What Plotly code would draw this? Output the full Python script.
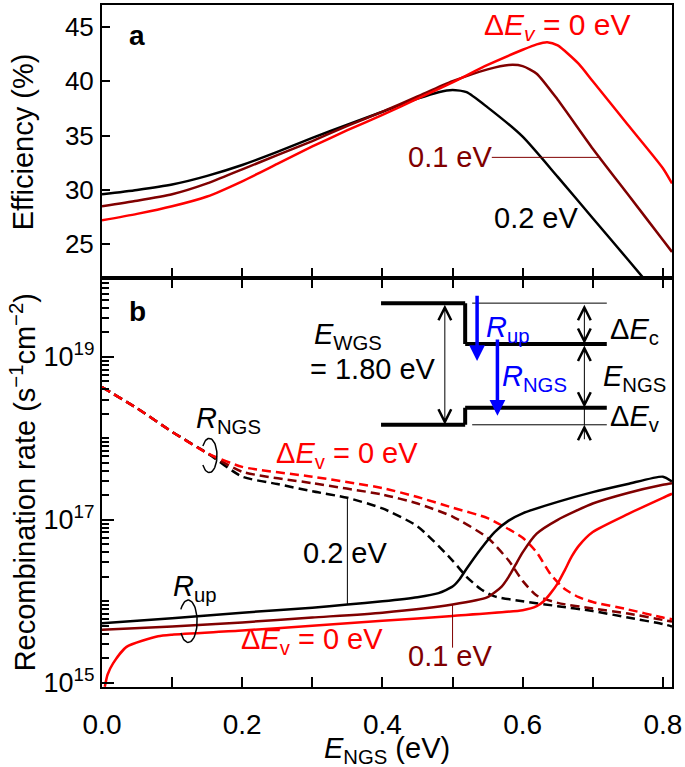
import numpy as np
import plotly.graph_objects as go

FONT = "Liberation Sans, Arial, Helvetica, sans-serif"
RED = "#ff0000"
DRED = "#800000"
BLACK = "#000000"
BLUE = "#0000ff"

# ---------------- Panel a: efficiency (%) vs E_NGS (eV) ----------------
eff_x_02 = [0, 0.05, 0.1, 0.15, 0.2, 0.25, 0.3, 0.35, 0.4, 0.45, 0.48, 0.5, 0.52, 0.55, 0.6, 0.65, 0.7, 0.75, 0.78]
eff_y_02 = [29.6, 30.0, 30.5, 31.3, 32.3, 33.5, 34.8, 36.0, 37.2, 38.4, 39.0, 39.2, 39.0, 37.6, 34.9, 31.2, 27.4, 23.6, 21.3]

eff_x_01 = [0, 0.05, 0.1, 0.15, 0.2, 0.25, 0.3, 0.35, 0.4, 0.45, 0.5, 0.55, 0.58, 0.6, 0.62, 0.65, 0.7, 0.75, 0.8, 0.813]
eff_y_01 = [28.5, 29.0, 29.6, 30.6, 31.9, 33.2, 34.5, 35.9, 37.2, 38.6, 40.0, 41.1, 41.5, 41.4, 40.7, 38.3, 33.8, 29.6, 25.4, 24.3]

eff_x_00 = [0, 0.05, 0.1, 0.15, 0.2, 0.25, 0.3, 0.35, 0.4, 0.45, 0.5, 0.55, 0.6, 0.62, 0.635, 0.65, 0.68, 0.7, 0.75, 0.8, 0.813]
eff_y_00 = [27.2, 27.8, 28.5, 29.4, 30.8, 32.4, 34.0, 35.5, 36.9, 38.4, 39.9, 41.5, 42.9, 43.4, 43.6, 43.3, 41.6, 40.0, 36.0, 32.0, 30.6]

# ---------------- Panel b: recombination rates, log10(s^-1 cm^-2) ----------------
ngs_x_02 = [0, 0.05, 0.1, 0.15, 0.2, 0.25, 0.3, 0.35, 0.4, 0.45, 0.5, 0.52, 0.54, 0.56, 0.6, 0.65, 0.7, 0.75, 0.8, 0.813]
ngs_log_02 = [18.63, 18.37, 18.08, 17.82, 17.53, 17.44, 17.35, 17.27, 17.14, 16.92, 16.5, 16.3, 16.15, 16.06, 16.0, 15.94, 15.88, 15.8, 15.72, 15.69]

ngs_x_01 = [0, 0.05, 0.1, 0.15, 0.2, 0.3, 0.4, 0.45, 0.5, 0.55, 0.58, 0.6, 0.62, 0.65, 0.7, 0.75, 0.8, 0.813]
ngs_log_01 = [18.63, 18.37, 18.08, 17.82, 17.59, 17.45, 17.31, 17.2, 17.04, 16.78, 16.5, 16.25, 16.07, 15.98, 15.91, 15.85, 15.77, 15.75]

ngs_x_00 = [0, 0.05, 0.1, 0.15, 0.2, 0.3, 0.4, 0.45, 0.5, 0.55, 0.6, 0.62, 0.64, 0.66, 0.68, 0.7, 0.75, 0.8, 0.813]
ngs_log_00 = [18.63, 18.37, 18.08, 17.82, 17.65, 17.53, 17.39, 17.28, 17.15, 17.02, 16.78, 16.6, 16.33, 16.15, 16.05, 15.99, 15.9, 15.8, 15.78]

up_x_02 = [0, 0.1, 0.2, 0.3, 0.35, 0.4, 0.45, 0.48, 0.5, 0.51, 0.52, 0.54, 0.56, 0.58, 0.6, 0.65, 0.7, 0.75, 0.8, 0.813]
up_log_02 = [15.73, 15.79, 15.86, 15.92, 15.96, 16.0, 16.05, 16.1, 16.18, 16.27, 16.4, 16.64, 16.85, 16.99, 17.08, 17.22, 17.34, 17.44, 17.53, 17.47]

up_x_01 = [0, 0.1, 0.2, 0.3, 0.4, 0.5, 0.55, 0.57, 0.58, 0.59, 0.6, 0.62, 0.65, 0.7, 0.75, 0.8, 0.813]
up_log_01 = [15.65, 15.69, 15.74, 15.8, 15.86, 15.96, 16.05, 16.18, 16.3, 16.45, 16.6, 16.83, 17.0, 17.2, 17.33, 17.43, 17.45]

up_x_00 = [0.004, 0.008, 0.016, 0.035, 0.08, 0.1, 0.2, 0.3, 0.4, 0.5, 0.6, 0.62, 0.63, 0.64, 0.65, 0.66, 0.67, 0.68, 0.7, 0.75, 0.8, 0.813]
up_log_00 = [14.95, 15.1, 15.24, 15.44, 15.57, 15.59, 15.64, 15.7, 15.76, 15.82, 15.89, 15.94, 16.0, 16.1, 16.22, 16.38, 16.55, 16.68, 16.85, 17.07, 17.27, 17.32]

x_ticks = [0, 0.1, 0.2, 0.3, 0.4, 0.5, 0.6, 0.7, 0.8]
x_ticktext = ["0.0", "", "0.2", "", "0.4", "", "0.6", "", "0.8"]
eff_ticks = [25, 30, 35, 40, 45]
rate_ticks = [1e15, 1e17, 1e19]
rate_ticktext = ["10<sup>15</sup>", "10<sup>17</sup>", "10<sup>19</sup>"]
rate_minor = [m * 10.0 ** d for d in range(14, 20) for m in range(1, 10)]

X_RANGE = [0, 0.813]
SPLIT = 0.5994
ANN_SIZE = 29

fig = go.Figure()

def pw(v):
    return [None if a is None else 10.0 ** a for a in v]

# panel a traces
for xs, ys, col in [(eff_x_02, eff_y_02, BLACK), (eff_x_01, eff_y_01, DRED), (eff_x_00, eff_y_00, RED)]:
    fig.add_trace(go.Scatter(x=xs, y=ys, xaxis="x2", yaxis="y2", mode="lines",
                             line=dict(color=col, width=2.5, shape="spline", smoothing=0.6),
                             showlegend=False, hoverinfo="skip"))

# panel b dashed (R_NGS)
for xs, ys, col in [(ngs_x_02, ngs_log_02, BLACK), (ngs_x_01, ngs_log_01, DRED), (ngs_x_00, ngs_log_00, RED)]:
    fig.add_trace(go.Scatter(x=xs, y=pw(ys), xaxis="x", yaxis="y", mode="lines",
                             line=dict(color=col, width=2.5, dash="9px,5px", shape="spline", smoothing=0.6),
                             showlegend=False, hoverinfo="skip"))
# panel b solid (R_up)
for xs, ys, col in [(up_x_02, up_log_02, BLACK), (up_x_01, up_log_01, DRED), (up_x_00, up_log_00, RED)]:
    fig.add_trace(go.Scatter(x=xs, y=pw(ys), xaxis="x", yaxis="y", mode="lines",
                             line=dict(color=col, width=2.5, shape="spline", smoothing=0.6),
                             showlegend=False, hoverinfo="skip"))

# small loop brackets around line bundles
def loop(cx, cl, rx, rl):
    t = np.linspace(-2.55, 2.55, 50)
    return cx + rx * np.cos(t), 10.0 ** (cl + rl * np.sin(t))

for cx, cl, rx, rl in [(0.153, 17.79, 0.011, 0.21), (0.123, 15.755, 0.0127, 0.26)]:
    lx, ly = loop(cx, cl, rx, rl)
    fig.add_trace(go.Scatter(x=lx, y=ly, xaxis="x", yaxis="y", mode="lines",
                             line=dict(color=BLACK, width=1.5), showlegend=False, hoverinfo="skip"))

# line segments drawn as traces: (x0, log y0, x1, log y1)
def segments(segs, color, width, ax=""):
    xs, ys = [], []
    for x0, y0, x1, y1 in segs:
        xs += [x0, x1, None]
        ys += [y0, y1, None]
    yy = ys if ax == "2" else pw(ys)
    fig.add_trace(go.Scatter(x=xs, y=yy, xaxis="x" + ax, yaxis="y" + ax, mode="lines",
                             line=dict(color=color, width=width), showlegend=False,
                             hoverinfo="skip", connectgaps=False))

# inset band diagram
segments([(0.398, 19.661, 0.518, 19.661), (0.518, 19.661, 0.518, 19.159),
          (0.518, 19.159, 0.72, 19.159), (0.398, 18.167, 0.518, 18.167),
          (0.518, 18.167, 0.518, 18.375), (0.518, 18.375, 0.72, 18.375)], BLACK, 4)
segments([(0.528, 19.661, 0.72, 19.661), (0.528, 18.167, 0.72, 18.167),
          (0.688, 18.375, 0.688, 18.167)], BLACK, 1)
# pointer lines
segments([(0.556, 33.0, 0.711, 33.0)], DRED, 1, ax="2")
segments([(0.35, 15.96, 0.35, 17.27)], BLACK, 1)
segments([(0.5, 15.43, 0.5, 15.96)], DRED, 1)

ann = []
def txt(x, y, s, color=BLACK, size=ANN_SIZE, ax="", xanchor="center"):
    ann.append(dict(x=x, y=y, xref="x" + ax, yref="y" + ax, text=s, showarrow=False,
                    font=dict(family=FONT, size=size, color=color), xanchor=xanchor, yanchor="middle"))

def arrow(x, ytip, ytail, color=BLACK, width=1, head=5, size=2.5, both=False):
    d = dict(x=x, y=ytip, ax=x, ay=ytail, xref="x", yref="y", axref="x", ayref="y", text="",
             showarrow=True, arrowhead=head, arrowsize=size, arrowwidth=width, arrowcolor=color,
             standoff=0, startstandoff=0)
    if both:
        d.update(arrowside="end+start", startarrowhead=head, startarrowsize=size)
    ann.append(d)

# panel a labels
txt(0.05, 44.2, "<b>a</b>", size=28, ax="2")
txt(0.649, 45.0, "Δ<i>E<sub>v</sub></i> = 0 eV", color=RED, size=30, ax="2")
txt(0.497, 33.0, "0.1 eV", color=DRED, ax="2")
txt(0.62, 27.44, "0.2 eV", color=BLACK, ax="2")

# panel b labels
txt(0.05, 19.56, "<b>b</b>", size=28)
txt(0.351, 19.257, "<i>E</i><sub>WGS</sub>")
txt(0.387, 18.853, "= 1.80 eV")
txt(0.545, 19.343, "<i>R</i><sub>up</sub>", color=BLUE, xanchor="left")
txt(0.568, 18.743, "<i>R</i><sub>NGS</sub>", color=BLUE, xanchor="left")
txt(0.722, 19.318, "Δ<i>E</i><sub>c</sub>", xanchor="left")
txt(0.712, 18.743, "<i>E</i><sub>NGS</sub>", xanchor="left")
txt(0.722, 18.253, "Δ<i>E</i><sub>v</sub>", xanchor="left")
txt(0.18, 18.23, "<i>R</i><sub>NGS</sub>")
txt(0.349, 17.8, "Δ<i>E</i><sub>v</sub> = 0 eV", color=RED)
txt(0.3467, 16.59, "0.2 eV")
txt(0.132, 16.16, "<i>R</i><sub>up</sub>")
txt(0.30, 15.51, "Δ<i>E</i><sub>v</sub> = 0 eV", color=RED)
txt(0.497, 15.33, "0.1 eV", color=DRED)

# arrows in inset
arrow(0.489, 18.167, 19.661, both=True)
arrow(0.688, 19.159, 19.661, both=True)
arrow(0.688, 18.375, 19.159, both=True)
arrow(0.688, 18.167, 17.971)
arrow(0.535, 18.951, 19.771, color=BLUE, width=3.5, head=2, size=0.9)
arrow(0.564, 18.277, 19.232, color=BLUE, width=3.5, head=2, size=0.9)

# axis titles
ann.append(dict(x=-0.139, y=SPLIT + (1 - SPLIT) / 2, xref="paper", yref="paper", text="Efficiency (%)",
                textangle=-90, showarrow=False, font=dict(family=FONT, size=29), xanchor="center", yanchor="middle"))
ann.append(dict(x=-0.139, y=SPLIT / 2, xref="paper", yref="paper",
                text="Recombination rate (s<sup>−1</sup>cm<sup>−2</sup>)",
                textangle=-90, showarrow=False, font=dict(family=FONT, size=29), xanchor="center", yanchor="middle"))
ann.append(dict(x=0.5, y=-0.092, xref="paper", yref="paper", text="<i>E</i><sub>NGS</sub> (eV)",
                showarrow=False, font=dict(family=FONT, size=29), xanchor="center", yanchor="middle"))

axis_common = dict(showline=True, linewidth=2, linecolor=BLACK, showgrid=False, zeroline=False,
                   ticks="inside", tickcolor=BLACK, tickwidth=1.5)

fig.update_layout(
    width=685, height=767,
    margin=dict(l=102, r=9, t=3, b=80),
    paper_bgcolor="white", plot_bgcolor="white", showlegend=False,
    font=dict(family=FONT, size=27, color=BLACK),
    xaxis=dict(domain=[0, 1], range=X_RANGE, anchor="y", tickmode="array", tickvals=x_ticks,
               ticktext=x_ticktext, ticklen=10, mirror="ticks", ticklabelstandoff=11,
               ticklabeloverflow="allow", tickfont=dict(size=28), **axis_common),
    xaxis2=dict(domain=[0, 1], range=X_RANGE, anchor="y2", tickmode="array", tickvals=x_ticks,
                showticklabels=False, ticklen=10, mirror=True, **axis_common),
    yaxis=dict(domain=[0, SPLIT], type="log", range=[14.947, 19.967], anchor="x", tickmode="array",
               tickvals=rate_ticks, ticktext=rate_ticktext, ticklen=12, mirror=True, ticklabelstandoff=0,
               tickfont=dict(size=27),
               minor=dict(tickmode="array", tickvals=rate_minor, ticks="inside", ticklen=7,
                          tickcolor=BLACK, tickwidth=1.5, showgrid=False),
               **axis_common),
    yaxis2=dict(domain=[SPLIT, 1], range=[21.88, 47.02], anchor="x2", tickmode="array",
                tickvals=eff_ticks, ticklen=8, mirror=True, ticklabelstandoff=1,
                tickfont=dict(size=26), **axis_common),
    annotations=ann,
)

fig.write_html("out.html", config={"displayModeBar": False},
               post_script="document.body.style.margin='0px';")
